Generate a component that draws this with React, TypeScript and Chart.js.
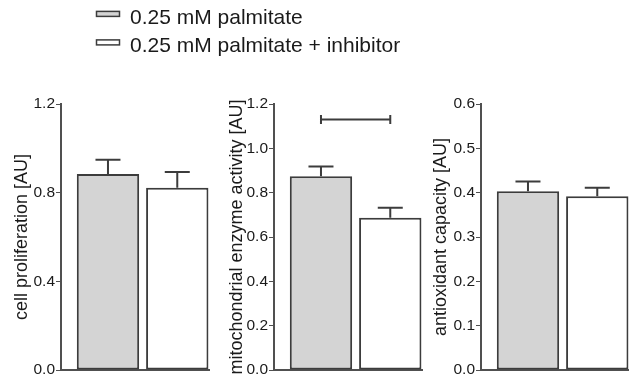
import React, { useEffect, useRef } from 'react';
import { Chart, registerables } from 'chart.js';

Chart.register(...registerables);

// ---------- data ----------
const seriesLabels = ['0.25 mM palmitate', '0.25 mM palmitate + inhibitor'];
const seriesColors = ['#d4d4d4', '#ffffff'];
const barPositions = [1, 2];

const panelTitles = [
  'cell proliferation [AU]',
  'mitochondrial enzyme activity [AU]',
  'antioxidant capacity [AU]',
];

const cellProliferation = [0.884, 0.822];
const cellProliferationErr = [0.065, 0.071];

const mitoActivity = [0.874, 0.687];
const mitoActivityErr = [0.044, 0.045];

const antioxidantCapacity = [0.403, 0.392];
const antioxidantCapacityErr = [0.022, 0.019];

const panelMax = [1.2, 1.2, 0.6];
const panelStep = [0.4, 0.2, 0.1];

// significance bracket in the mitochondrial panel (bar index from -> to, at value)
const mitoBracket = [{ from: 0, to: 1, level: 1.13 }];

// ---------- style / layout ----------
const FONT = 'Liberation Sans, Arial, Helvetica, sans-serif';
const INK = '#3c3c3c';
const AXIS = '#505050';
const TEXT = '#1a1a1a';
const panelCanvasLeft = [0, 213, 420];
const panelPadRight = [1, 1, 0];
const panelTitlePad = [11.2, 13.7, 10.5];
const AXIS_W = 61;
const PLOT_W = 148;
const LEGEND_BOX_W = 23;
const LEGEND_BOX_H = 5;
const LEGEND_BOX_DY = 3.9;

Chart.defaults.font.family = FONT;

function makeErrorBarPlugin(errs: number[]) {
  return {
    id: 'errorBars',
    afterDatasetsDraw(chart: any) {
      const ctx = chart.ctx;
      const meta = chart.getDatasetMeta(0);
      const y = chart.scales.y;
      ctx.save();
      ctx.strokeStyle = INK;
      ctx.lineWidth = 2;
      meta.data.forEach((bar: any, k: number) => {
        const v = (chart.data.datasets[0].data[k] as any).y;
        const top = y.getPixelForValue(v + errs[k]);
        ctx.beginPath();
        ctx.moveTo(bar.x, bar.y);
        ctx.lineTo(bar.x, top);
        ctx.moveTo(bar.x - 12.5, top);
        ctx.lineTo(bar.x + 12.5, top);
        ctx.stroke();
      });
      ctx.restore();
    },
  };
}

function makeBracketPlugin(items: { from: number; to: number; level: number }[]) {
  return {
    id: 'bracket',
    afterDatasetsDraw(chart: any) {
      const ctx = chart.ctx;
      const meta = chart.getDatasetMeta(0);
      const y = chart.scales.y;
      ctx.save();
      ctx.strokeStyle = INK;
      ctx.lineWidth = 2;
      items.forEach((b) => {
        const x1 = meta.data[b.from].x;
        const x2 = meta.data[b.to].x;
        const py = y.getPixelForValue(b.level);
        ctx.beginPath();
        ctx.moveTo(x1, py);
        ctx.lineTo(x2, py);
        ctx.moveTo(x1, py - 4.5);
        ctx.lineTo(x1, py + 4.5);
        ctx.moveTo(x2, py - 4.5);
        ctx.lineTo(x2, py + 4.5);
        ctx.stroke();
      });
      ctx.restore();
    },
  };
}

const legendBoxPlugin = {
  id: 'legendBoxes',
  afterDraw(chart: any) {
    const lg = chart.legend;
    if (!lg || !lg.legendHitBoxes) return;
    const ctx = chart.ctx;
    ctx.save();
    ctx.strokeStyle = INK;
    ctx.lineWidth = 1.5;
    lg.legendHitBoxes.forEach((hb: any, k: number) => {
      const x = hb.left;
      const y = hb.top + LEGEND_BOX_DY;
      ctx.fillStyle = seriesColors[k];
      ctx.fillRect(x, y, LEGEND_BOX_W, LEGEND_BOX_H);
      ctx.strokeRect(x, y, LEGEND_BOX_W, LEGEND_BOX_H);
    });
    ctx.restore();
  },
};

function panelConfig(i: number, values: number[], errs: number[], brackets: any[]): any {
  return {
    type: 'bar',
    data: {
      datasets: [
        {
          data: barPositions.map((x, k) => ({ x, y: values[k] })),
          backgroundColor: seriesColors,
          borderColor: INK,
          borderWidth: 2,
          borderSkipped: false,
          barPercentage: 0.9,
          categoryPercentage: 1,
        },
      ],
    },
    options: {
      responsive: false,
      animation: false,
      events: [],
      layout: { padding: { top: 24, bottom: 13, left: 0, right: panelPadRight[i] } },
      plugins: { legend: { display: false }, tooltip: { enabled: false } },
      scales: {
        x: {
          type: 'linear',
          offset: false,
          min: 0.322,
          max: 2.458,
          ticks: { display: false },
          grid: { display: false, drawTicks: false },
          border: { display: true, color: AXIS, width: 2 },
          afterFit: (s: any) => {
            s.height = 0;
          },
        },
        y: {
          min: 0,
          max: panelMax[i],
          ticks: {
            stepSize: panelStep[i],
            color: TEXT,
            padding: 1,
            font: { size: 15.5, family: FONT },
            callback: (v: any) => Number(v).toFixed(1),
          },
          grid: {
            display: true,
            drawOnChartArea: false,
            drawTicks: true,
            tickLength: 5,
            color: AXIS,
            lineWidth: 1,
          },
          border: { display: true, color: AXIS, width: 2 },
          title: {
            display: true,
            text: panelTitles[i],
            color: TEXT,
            font: { size: 18, family: FONT },
            padding: { top: panelTitlePad[i], bottom: 0 },
          },
          afterFit: (s: any) => {
            s.width = AXIS_W;
          },
        },
      },
    },
    plugins: [makeErrorBarPlugin(errs), makeBracketPlugin(brackets)],
  };
}

function legendConfig(): any {
  return {
    type: 'bar',
    data: {
      labels: [],
      datasets: seriesLabels.map((label, k) => ({
        label,
        data: [],
        backgroundColor: seriesColors[k],
        borderColor: INK,
        borderWidth: 1.5,
      })),
    },
    options: {
      responsive: false,
      animation: false,
      events: [],
      layout: { padding: { left: 89, top: 0 } },
      scales: { x: { display: false }, y: { display: false } },
      plugins: {
        tooltip: { enabled: false },
        legend: {
          display: true,
          position: 'top',
          align: 'start',
          maxHeight: 200,
          labels: {
            boxWidth: LEGEND_BOX_W,
            boxHeight: LEGEND_BOX_H,
            padding: 7.5,
            color: TEXT,
            font: { size: 21, family: FONT },
            generateLabels: (chart: any) =>
              Chart.defaults.plugins.legend.labels.generateLabels(chart).map((it: any) => ({
                ...it,
                fillStyle: 'rgba(0,0,0,0)',
                strokeStyle: 'rgba(0,0,0,0)',
                lineWidth: 0,
              })),
          },
        },
      },
    },
    plugins: [legendBoxPlugin],
  };
}

export default function App() {
  const legendRef = useRef<HTMLCanvasElement>(null);
  const r1 = useRef<HTMLCanvasElement>(null);
  const r2 = useRef<HTMLCanvasElement>(null);
  const r3 = useRef<HTMLCanvasElement>(null);

  useEffect(() => {
    const charts: Chart[] = [];
    if (legendRef.current) charts.push(new Chart(legendRef.current, legendConfig()));
    if (r1.current)
      charts.push(new Chart(r1.current, panelConfig(0, cellProliferation, cellProliferationErr, [])));
    if (r2.current)
      charts.push(new Chart(r2.current, panelConfig(1, mitoActivity, mitoActivityErr, mitoBracket)));
    if (r3.current)
      charts.push(
        new Chart(r3.current, panelConfig(2, antioxidantCapacity, antioxidantCapacityErr, []))
      );
    return () => charts.forEach((c) => c.destroy());
  }, []);

  const refs = [r1, r2, r3];
  return (
    <div
      style={{
        position: 'absolute',
        left: 0,
        top: 0,
        width: 629,
        height: 383,
        overflow: 'hidden',
        background: '#ffffff',
      }}
    >
      <canvas
        ref={legendRef}
        width={420}
        height={80}
        style={{ position: 'absolute', left: 0, top: 0 }}
      />
      {refs.map((r, i) => (
        <canvas
          key={i}
          ref={r}
          width={AXIS_W + PLOT_W + panelPadRight[i]}
          height={303}
          style={{ position: 'absolute', left: panelCanvasLeft[i], top: 80 }}
        />
      ))}
    </div>
  );
}
